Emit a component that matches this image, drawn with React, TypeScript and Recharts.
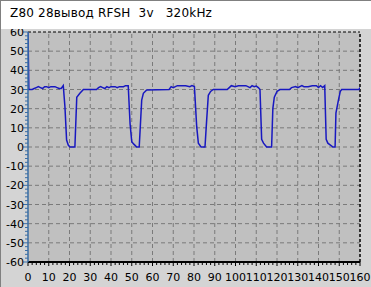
import { LineChart, Line, XAxis, YAxis, ReferenceLine, ReferenceArea } from "recharts";

// sample positions (x) and signal level (y)
const sampleX = [
  0, 0.4, 2, 3, 4, 5, 6, 7, 8, 9, 10, 11, 12, 13, 14, 15, 16, 17,
  17.8, 18.6, 19.4, 20.2, 22.6, 23.5, 25, 26.7,
  33, 34, 35, 36, 37, 38, 39, 40, 42, 43, 44, 46, 47, 48.3,
  49.2, 50, 51, 52.4, 53.6, 54.8, 55.6, 57.2,
  68, 69, 70, 71, 72, 74, 76, 78, 79, 80.2,
  81.3, 82.1, 83.4, 85.3, 86.1, 86.9, 88, 89.3,
  96, 97, 98, 99.8, 101.4, 103, 105, 107, 108, 109, 110, 111, 111.8,
  112.6, 113.5, 115, 117.4, 118, 118.7, 120, 121.4,
  126, 127, 129, 130, 132, 133, 135, 137, 139, 140, 141, 142, 143,
  143.7, 144.5, 147, 148, 148.4, 149.6, 150.5, 151.2, 159.5, 160,
];
const sampleY = [
  60, 30, 30, 30.5, 31, 31.5, 31, 30.5, 31.5, 31.5, 31, 31.5, 31.5, 31.5, 31, 30.5, 30.5, 32,
  21, 3.6, 1, 0, 0, 26, 28, 30,
  30, 31, 31.5, 31, 30.5, 31.5, 31, 31.5, 31.5, 31, 31.5, 31.5, 32, 32,
  12, 2.8, 1.5, 0, 0, 24.5, 28, 29.8,
  30, 31.5, 31, 31.5, 32, 32, 32, 31.5, 32, 31.5,
  10.6, 2, 0, 0, 14, 27, 29, 30,
  30, 31, 32, 31.5, 32, 32, 32, 31, 32, 31.5, 31.8, 31, 30,
  4, 2, 0, 0, 20, 26, 29, 30,
  30, 31, 31.5, 31, 32, 31.5, 31.5, 32, 32, 31, 32, 31, 32,
  4, 2, 0, 0, 17.7, 24.5, 29, 30, 30, 31,
];

const xMajor = [0, 10, 20, 30, 40, 50, 60, 70, 80, 90, 100, 110, 120, 130, 140, 150, 160];
const yMajor = [-60, -50, -40, -30, -20, -10, 0, 10, 20, 30, 40, 50, 60];
const xTicks = Array.from({ length: 81 }, (_, i) => i * 2);
const yTicks = Array.from({ length: 61 }, (_, i) => -60 + i * 2);

const title = "Z80 28вывод RFSH  3v   320kHz";

const data = sampleX.map((x, i) => ({ x, y: sampleY[i] }));

const tickFont = "'DejaVu Sans', Tahoma, sans-serif";

function XTick(props: any) {
  const { x, y, payload } = props;
  const major = payload.value % 10 === 0;
  return (
    <g>
      <line x1={x} x2={x} y1={y} y2={y + (major ? 4 : 3)} stroke="#000" strokeWidth={1} />
      {major && (
        <text x={x} y={y + 19} textAnchor="middle" fontSize={11} fontFamily={tickFont} fill="#000">
          {payload.value}
        </text>
      )}
    </g>
  );
}

function YTick(props: any) {
  const { x, y, payload } = props;
  const major = payload.value % 10 === 0;
  return (
    <g>
      <line x1={x - (major ? 5 : 3)} x2={x} y1={y} y2={y} stroke="#3a6ea5" strokeWidth={1} />
      {major && (
        <text x={x - 4} y={y + 4} textAnchor="end" fontSize={11} fontFamily={tickFont} fill="#000">
          {payload.value}
        </text>
      )}
    </g>
  );
}

export default function App() {
  return (
    <div
      style={{
        position: "fixed",
        left: 0,
        top: 0,
        width: 371,
        height: 287,
        background: "#d4d4d4",
        overflow: "hidden",
      }}
    >
      <LineChart
        width={371}
        height={287}
        data={data}
        margin={{ top: 32, right: 11, bottom: 0, left: 0 }}
      >
        <XAxis
          dataKey="x"
          type="number"
          domain={[0, 160]}
          ticks={xTicks}
          interval={0}
          tick={<XTick />}
          tickLine={false}
          tickSize={0}
          tickMargin={0}
          height={25}
          axisLine={{ stroke: "#000", strokeWidth: 2 }}
          allowDataOverflow
        />
        <YAxis
          type="number"
          domain={[-60, 60]}
          ticks={yTicks}
          interval={0}
          tick={<YTick />}
          tickLine={false}
          tickSize={0}
          tickMargin={0}
          width={28}
          axisLine={{ stroke: "#3a6ea5", strokeWidth: 1.5 }}
          allowDataOverflow
        />
        <ReferenceArea x1={0} x2={160} y1={-60} y2={60} fill="#c0c0c0" fillOpacity={1} stroke="none" />
        {yMajor.slice(1, -1).map((v) => (
          <ReferenceLine key={"h" + v} y={v} stroke="#7a7a7a" strokeDasharray="4 3" />
        ))}
        {xMajor.slice(1, -1).map((v) => (
          <ReferenceLine key={"v" + v} x={v} stroke="#7a7a7a" strokeDasharray="4 3" />
        ))}
        <ReferenceLine y={60} stroke="#000" strokeDasharray="3 2" />
        <ReferenceLine x={160} stroke="#000" strokeWidth={1.5} strokeDasharray="3 2" />
        <Line
          type="linear"
          dataKey="y"
          stroke="#1818c0"
          strokeWidth={1.5}
          dot={false}
          isAnimationActive={false}
        />
      </LineChart>
      <div
        style={{
          position: "absolute",
          left: 0,
          top: 0,
          width: 371,
          height: 29,
          background: "#fff",
          borderTop: "1px solid #808080",
          borderLeft: "1px solid #808080",
          boxSizing: "border-box",
        }}
      >
        <div
          style={{
            position: "absolute",
            left: 9,
            top: 5,
            fontFamily: "'DejaVu Sans', Tahoma, sans-serif",
            fontSize: 12,
            letterSpacing: 0.2,
            whiteSpace: "pre",
            color: "#000",
          }}
        >
          {title}
        </div>
      </div>
      <div
        style={{
          position: "absolute",
          left: 0,
          top: 29,
          width: 1,
          height: 258,
          background: "#808080",
        }}
      />
    </div>
  );
}
